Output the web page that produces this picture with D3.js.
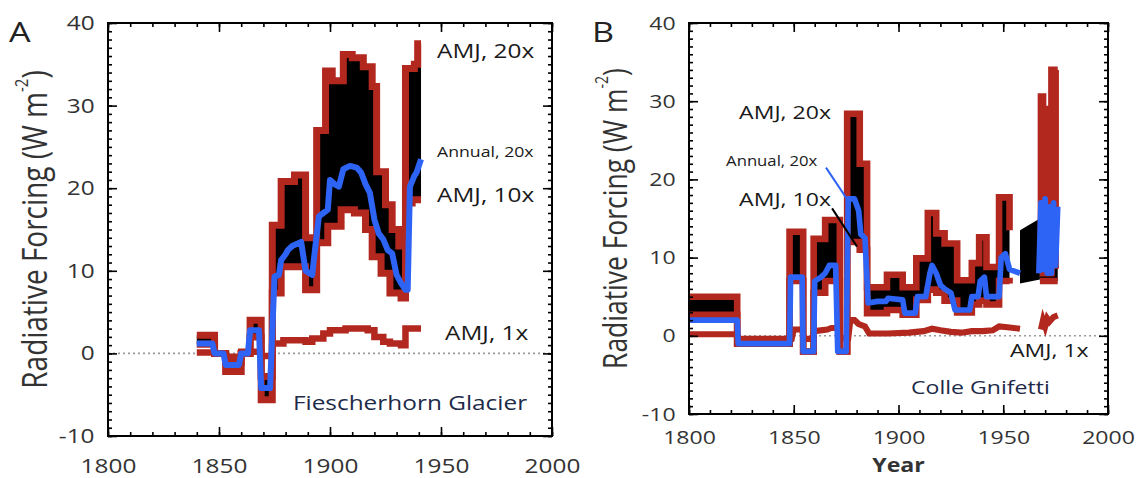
<!DOCTYPE html>
<html><head><meta charset="utf-8">
<script src="https://cdn.jsdelivr.net/npm/d3@7"></script>
<style>body{margin:0;background:#fff}svg{display:block}</style>
</head><body><svg id="c" width="1138" height="478"></svg>
<script>
// ---------------- DATA ----------------
const xTickValues = [1800, 1850, 1900, 1950, 2000];
const yTickValues = [-10, 0, 10, 20, 30, 40];

// Panel A : Fiescherhorn Glacier
const aYears20 = [1840,1848,1853,1860,1864,1869,1874,1878,1884,1889,1894,1898,1901,1906,1910,1915,1919,1921,1925,1928,1931,1934,1938,1939.5,1941];
const aAMJ20   = [2.2,0.0,-2.2,0.0,4.0,-5.6,15.5,20.8,21.6,14.0,27.0,34.2,33.0,36.2,35.8,34.7,32.3,22.0,18.0,15.0,13.0,34.5,35.0,37.5,37.5];
const aYears10 = [1840,1848,1853,1860,1864,1869,1874,1878,1889,1894,1899,1905,1911,1916,1919,1923,1927,1932,1934,1937,1941];
const aAMJ10   = [1.1,0.0,-1.1,0.0,2.0,-2.8,7.3,10.5,7.7,13.4,15.4,17.4,17.0,15.0,11.7,9.7,7.3,6.7,18.2,18.6,18.6];
const aYears1  = [1840,1848,1853,1860,1869,1874,1879,1889,1892,1897,1900,1907,1917,1920,1924,1927,1932,1934,1941];
const aAMJ1    = [0.1,0.0,-0.4,0.2,-0.3,1.2,1.6,1.4,1.8,2.4,2.8,3.0,2.8,2.0,1.4,1.2,1.0,3.0,3.0];
const aYearsAnn = [1840,1847,1848,1852,1853,1859,1860,1863,1864,1868,1869,1873,1875,1877,1878,1880,1881,1883,1887,1889,1892,1893,1895,1897,1899,1900,1902,1904,1906,1909,1912,1914,1916,1918,1920,1922,1924,1926,1928,1930,1932,1934,1935,1936,1938,1939,1941];
const aAnnual20 = [1.2,1.2,0,0,-1.4,-1.4,0,0,2.8,2.8,-4.2,-4.2,9.3,9.5,11.3,12.0,12.5,13.0,13.5,10,9.5,12,16.6,17,17.4,21,20.5,20.2,22.3,22.7,22.5,21.9,20.5,19.4,16.2,14.5,13.8,12.5,12.1,9.5,8.5,7.7,7.7,20.2,21.5,21.9,23.5];

// Panel B : Colle Gnifetti (null = no data)
const bYears   = [1800,1823,1848,1854.5,1859.5,1865,1872,1875.5,1881.5,1885,1894.5,1902,1908.5,1914,1918,1922,1928,1935,1938.5,1942,1948,1953,1958,1967.5,1968,1969,1970,1971,1972,1973,1974,1975,1976];
const bAMJ20   = [5.0,-1.0,13.3,-2.0,12.4,14.8,-2.0,28.4,22.0,6.2,7.8,6.2,9.9,15.7,13.1,11.8,7.1,9.3,12.6,8.8,17.7,13.5,null,8.0,30.6,8.0,29.0,27.0,8.0,34.0,9.0,34.0,34.0];
const bAMJ10   = [2.7,-1.0,7.0,-2.0,5.5,7.0,-2.0,12.0,11.0,2.9,3.3,2.7,4.6,5.9,5.5,4.5,3.0,4.0,4.5,4.0,7.0,6.7,null,7.0,7.0,7.0,7.0,7.0,7.0,7.0,7.0,7.0,7.0];
const bGapYears  = [1958, 1967.5];
const bGapTop    = [13.5, 15.0];
const bGapBottom = [6.7, 7.2];
const bYears1  = [1800,1823,1823.5,1849,1850,1854,1855,1859,1860,1866,1868,1871,1872,1876,1877,1879,1881,1884,1886,1895,1905,1912,1916,1920,1925,1930,1935,1940,1945,1948,1952,1958,1963,1968,1969,1970,1971,1972,1974,1976];
const bAMJ1    = [0.2,0.2,-0.4,-0.4,0.8,0.8,-0.4,-0.4,0.6,0.8,1.0,1.0,-0.3,-0.3,2.0,2.0,1.5,1.2,0.3,0.3,0.4,0.6,0.9,0.7,0.5,0.4,0.6,0.6,0.7,1.2,1.1,0.9,null,0.8,2.0,1.2,2.2,1.8,2.4,2.6];
const bYearsAnn = [1800,1823,1823.5,1848,1848.5,1854,1854.5,1859.5,1860,1863,1865,1867,1870,1871,1875,1876,1879,1881,1882,1884,1885.5,1890,1894,1895,1902,1903,1908,1909,1913,1915,1916,1918,1920,1922,1925,1927,1934,1935,1938,1939,1941,1942,1948,1949,1951,1953,1958,1962,1967,1968,1969,1970,1971,1972,1973,1974,1975,1976];
const bAnnual20 = [2.0,2.0,-1.0,-1.0,7.5,7.5,-2,-2,7,7.5,8,9,9,-2,-2,17.5,17.5,16,13,12.5,4.2,4.4,4.4,4.8,4.6,2.9,2.9,5,5,8,9,8,6.5,6,5.5,3.3,3.3,5,5,7,7.5,5,5,10,10.5,8.5,8.0,null,8,17,8.5,17.5,8,16.5,8,17,9,16.5];

// Annotations (text, year, value, size-class)
const aLabels = [["AMJ, 20x",1948.2,36.7,"big"],["Annual, 20x",1948.2,24.4,"small"],["AMJ, 10x",1948.2,19.3,"big"],["AMJ, 1x",1951.8,2.5,"big"],["Fiescherhorn Glacier",1883.3,-5.9,"site"]];
const bLabels = [["AMJ, 20x",1823.9,28.7,"big"],["Annual, 20x",1817.7,22.4,"small"],["AMJ, 10x",1823.9,17.6,"big"],["AMJ, 1x",1953.2,-1.8,"big"],["Colle Gnifetti",1906,-6.5,"site"]];
const bPointers = [[[1865.4,21.5],[1876.4,17.1],"#2e64f5"],[[1868.3,16.3],[1880.2,11.4],"#000"]];

// ---------------- DRAWING ----------------
const RED = "#b2281f", BLUE = "#2e64f5";
const SX = 1.22;
const FONT = "'Open Sans', 'DejaVu Sans', sans-serif";
const svg = d3.select("#c");

function stepLookup(years, vals) {
  return t => { let v = vals[0]; for (let i = 0; i < years.length; i++) { if (years[i] <= t) v = vals[i]; } return v; };
}
function pairs(years, vals) { return years.map((y, i) => [y, vals[i]]); }

function panel(o) {
  const g = svg.append("g").attr("transform", `translate(${o.left},${o.top})`);
  const x = d3.scaleLinear().domain([1800, 2000]).range([0, o.w]);
  const y = d3.scaleLinear().domain([-10, 40]).range([o.h, 0]);
  const k = o.k;

  g.append("line").attr("x1", 0).attr("x2", o.w).attr("y1", y(0)).attr("y2", y(0))
    .attr("stroke", "#9a9a9a").attr("stroke-width", 1.6).attr("stroke-dasharray", "2,3");

  const allYears = Array.from(new Set(o.years20.concat(o.years10))).sort((a, b) => a - b);
  const f20 = stepLookup(o.years20, o.v20), f10 = stepLookup(o.years10, o.v10);
  const fillData = allYears.map(t => [t, f10(t), f20(t)]);
  g.append("path").datum(fillData)
    .attr("d", d3.area().defined(d => d[1] != null && d[2] != null)
      .x(d => x(d[0])).y0(d => y(d[1])).y1(d => y(d[2])).curve(d3.curveStepAfter))
    .attr("fill", "#000");
  if (o.gapYears) {
    const gd = o.gapYears.map((t, i) => [t, o.gapBottom[i], o.gapTop[i]]);
    g.append("path").datum(gd)
      .attr("d", d3.area().x(d => x(d[0])).y0(d => y(d[1])).y1(d => y(d[2])))
      .attr("fill", "#000");
  }

  const stepLine = d3.line().defined(d => d[1] != null).x(d => x(d[0])).y(d => y(d[1])).curve(d3.curveStepAfter);
  const linLine = d3.line().defined(d => d[1] != null).x(d => x(d[0])).y(d => y(d[1]));

  [[o.years20, o.v20], [o.years10, o.v10]].forEach(([ys, vs]) => {
    g.append("path").datum(pairs(ys, vs)).attr("d", stepLine)
      .attr("fill", "none").attr("stroke", RED).attr("stroke-width", 7 * k).attr("stroke-linejoin", "miter");
  });
  g.append("path").datum(pairs(o.years1, o.v1)).attr("d", o.oneStep ? stepLine : linLine)
    .attr("fill", "none").attr("stroke", RED).attr("stroke-width", 6.5 * k).attr("stroke-linejoin", "miter");
  g.append("path").datum(pairs(o.yearsAnn, o.ann)).attr("d", linLine)
    .attr("fill", "none").attr("stroke", BLUE).attr("stroke-width", 6 * k).attr("stroke-linejoin", "round");

  (o.pointers || []).forEach(p => {
    g.append("line").attr("x1", x(p[0][0])).attr("y1", y(p[0][1])).attr("x2", x(p[1][0])).attr("y2", y(p[1][1]))
      .attr("stroke", p[2]).attr("stroke-width", 2);
  });

  const styleAxis = sel => { sel.select(".domain").remove(); sel.selectAll("line").attr("stroke", "#000").attr("stroke-width", 1.6); };
  const minorX = d3.range(1800, 2001, 10), minorY = d3.range(-10, 41, 1);
  g.append("g").attr("transform", `translate(0,${o.h})`).call(d3.axisBottom(x).tickValues(minorX).tickSize(-4).tickFormat("")).call(styleAxis);
  g.append("g").call(d3.axisTop(x).tickValues(minorX).tickSize(-4).tickFormat("")).call(styleAxis);
  g.append("g").call(d3.axisLeft(y).tickValues(minorY).tickSize(-4).tickFormat("")).call(styleAxis);
  g.append("g").attr("transform", `translate(${o.w},0)`).call(d3.axisRight(y).tickValues(minorY).tickSize(-4).tickFormat("")).call(styleAxis);
  g.append("g").call(d3.axisTop(x).tickValues(xTickValues).tickSize(-9).tickFormat("")).call(styleAxis);
  g.append("g").attr("transform", `translate(${o.w},0)`).call(d3.axisRight(y).tickValues(yTickValues).tickSize(-9).tickFormat("")).call(styleAxis);

  const fmt = d => String(d);
  const bx = g.append("g").attr("transform", `translate(0,${o.h})`)
    .call(d3.axisBottom(x).tickValues(xTickValues).tickSize(-9).tickPadding(o.xPad).tickFormat(fmt)).call(styleAxis);
  const ly = g.append("g")
    .call(d3.axisLeft(y).tickValues(yTickValues).tickSize(-9).tickPadding(11).tickFormat(fmt)).call(styleAxis);
  [bx, ly].forEach(a => a.selectAll("text").attr("font-family", FONT).attr("font-size", 20 * k)
    .attr("fill", "#333").attr("transform", `scale(${SX},1)`));

  g.append("rect").attr("width", o.w).attr("height", o.h).attr("fill", "none").attr("stroke", "#000").attr("stroke-width", 2);

  const sizes = { big: 20, small: 14.5, site: 20 };
  o.labels.forEach(([t, yr, v, cls]) => {
    g.append("text").attr("transform", `translate(${x(yr)},${y(v)}) scale(${SX},1)`)
      .attr("dominant-baseline", "central").attr("font-family", FONT).attr("font-size", sizes[cls] * k)
      .attr("fill", cls === "site" ? "#1d2a48" : "#1a1a1a").text(t);
  });

  const tt = svg.append("text")
    .attr("transform", `translate(${o.titleX},${o.top + o.h * 0.5}) scale(${SX},1) rotate(-90)`)
    .attr("text-anchor", "middle").attr("dominant-baseline", "central")
    .attr("font-family", FONT).attr("font-size", 28 * k).attr("fill", "#333");
  tt.append("tspan").text("Radiative Forcing (W m");
  tt.append("tspan").attr("font-size", 15 * k).attr("dy", -11 * k).text("-2");
  tt.append("tspan").attr("dy", 11 * k).text(")");

  svg.append("text").attr("transform", `translate(${o.letterX},42) scale(${SX},1)`)
    .attr("font-family", FONT).attr("font-size", 28).attr("fill", "#222").text(o.letter);
  return { x, y, g };
}

panel({ left: 108, top: 23, w: 444, h: 413, k: 1, xPad: 23,
  years20: aYears20, v20: aAMJ20, years10: aYears10, v10: aAMJ10,
  years1: aYears1, v1: aAMJ1, oneStep: true, yearsAnn: aYearsAnn, ann: aAnnual20,
  labels: aLabels, titleX: 34, letter: "A", letterX: 9 });

const pb = panel({ left: 689, top: 23, w: 419, h: 391, k: 0.945, xPad: 17,
  years20: bYears, v20: bAMJ20, years10: bYears, v10: bAMJ10,
  gapYears: bGapYears, gapTop: bGapTop, gapBottom: bGapBottom,
  years1: bYears1, v1: bAMJ1, oneStep: false, yearsAnn: bYearsAnn, ann: bAnnual20,
  labels: bLabels, pointers: bPointers, titleX: 614, letter: "B", letterX: 592 });

svg.append("text").attr("transform", `translate(${689 + pb.x(1900)},472) scale(${SX},1)`)
  .attr("text-anchor", "middle").attr("font-family", FONT).attr("font-weight", "bold")
  .attr("font-size", 19).attr("fill", "#333").text("Year");
</script></body></html>
